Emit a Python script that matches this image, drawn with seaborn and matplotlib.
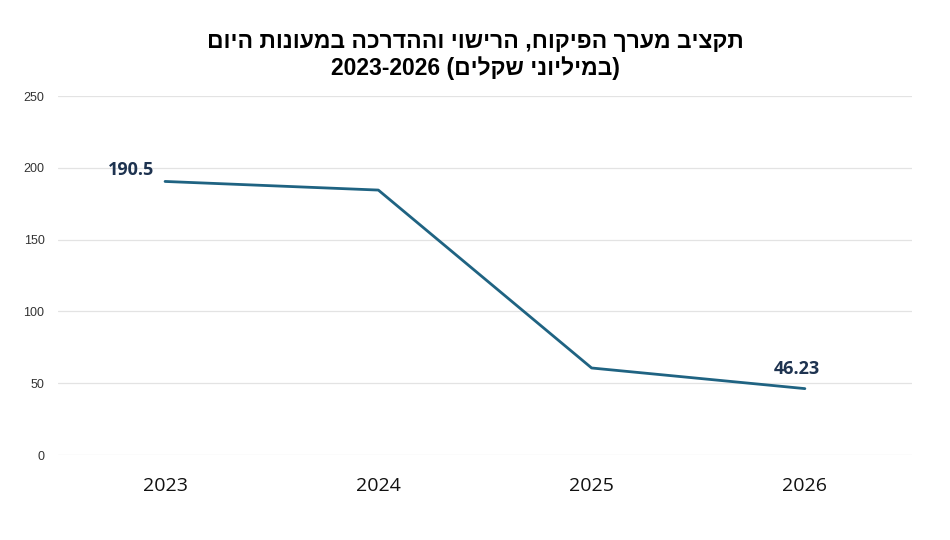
import matplotlib
matplotlib.use("Agg")
import matplotlib.pyplot as plt
import seaborn as sns
import pandas as pd

years = ["2023", "2024", "2025", "2026"]
values = [190.5, 184.5, 60.6, 46.23]
labeled = {0: "190.5", 3: "46.23"}
title_line1 = "תקציב מערך הפיקוח, הרישוי וההדרכה במעונות היום"
title_years = "2023-2026"
title_unit = "במיליוני שקלים"
y_ticks = [0, 50, 100, 150, 200, 250]

sns.set_theme(style="white")
plt.rcParams['font.family'] = ['Open Sans', 'Liberation Sans', 'DejaVu Sans']

df = pd.DataFrame({"year": years, "value": values})

fig = plt.figure(figsize=(9.5, 5.4), dpi=100)
ax = fig.add_axes([0.0615, 0.1574, 0.898, 0.6648])

sns.lineplot(data=df, x="year", y="value", ax=ax, color="#1F6382", linewidth=2.0, sort=False)

ax.set_xlim(-0.5, 3.5)
ax.set_ylim(0, 250)
ax.set_yticks(y_ticks)
ax.set_yticklabels([str(t) for t in y_ticks], fontsize=9, color="#333333",
                   family=['Liberation Sans', 'DejaVu Sans'])
ax.tick_params(axis='y', length=0, pad=10)
ax.tick_params(axis='x', length=0, pad=16, labelsize=14, labelcolor="#111111")
ax.grid(axis='y', color="#E3E3E3", linewidth=0.9)
ax.set_axisbelow(True)
for s in ax.spines.values():
    s.set_visible(False)
ax.set_xlabel("")
ax.set_ylabel("")

offsets = {0: (-24.5, 8), 3: (-6, 14)}
for i, txt in labeled.items():
    ax.annotate(txt, (i, values[i]), xytext=offsets[i], textcoords="offset points",
                ha="center", va="center", fontsize=13, fontweight="bold", color="#1E3350")

def visual(s):
    return s[::-1]

fig.text(0.5, 0.924, visual(title_line1), ha="center", va="center", fontsize=16.5,
         fontweight="bold", color="#000000", family=['Liberation Sans', 'DejaVu Sans'])
fig.text(0.5, 0.874, title_years + " (" + visual(title_unit) + ")", ha="center", va="center",
         fontsize=16.5, fontweight="bold", color="#000000", family=['Liberation Sans', 'DejaVu Sans'])

fig.savefig("out.png", dpi=100)
